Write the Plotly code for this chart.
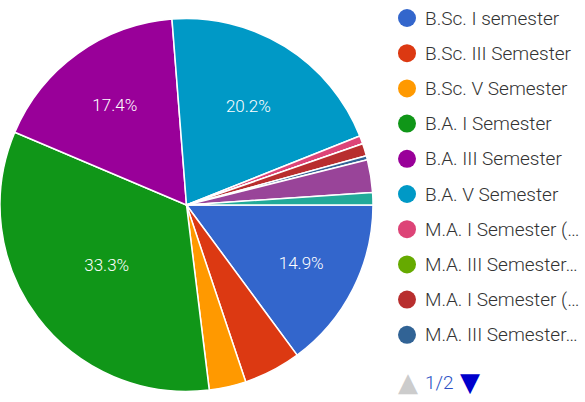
import plotly.graph_objects as go

# ---- data ----
labels = [
    "B.Sc. I semester", "B.Sc. III Semester", "B.Sc. V Semester",
    "B.A. I Semester", "B.A. III Semester", "B.A. V Semester",
    "M.A. I Semester (…", "M.A. III Semester…", "M.A. I Semester (… ",
    "M.A. III Semester… ", "M.Com. I Semester", "M.Com. III Semester",
]
counts = [42, 14, 9, 94, 49, 57, 2, 0, 3, 1, 8, 3]
colors = ["#3366cc", "#dc3912", "#ff9900", "#109618", "#990099", "#0099c6",
          "#dd4477", "#66aa00", "#b82e2e", "#316395", "#994499", "#22aa99"]
legend_labels = labels[:10]
page_text = "1/2"

W, H = 585, 402
total = sum(counts)
slice_text = [f"{c / total * 100:.1f}%" if c / total > 0.1 else "" for c in counts]

# pie geometry (pixels)
cx, cy, r = 186, 205, 187

fig = go.Figure()
fig.add_trace(go.Pie(
    labels=labels, values=counts, sort=False, direction="clockwise",
    rotation=90, text=slice_text, textinfo="text", textposition="inside",
    insidetextorientation="horizontal", hoverinfo="label+percent",
    marker=dict(colors=colors, line=dict(color="white", width=1.5)),
    textfont=dict(family="Roboto", size=17, color="white", weight=300),
    domain=dict(x=[max(0, (cx - r) / W), min(1, (cx + r) / W)],
                y=[max(0, (H - cy - r) / H), min(1, (H - cy + r) / H)]),
    showlegend=False,
))

# legend drawn as scatter markers + text annotations in pixel-space axes
lx, tx, ly0, ldy = 407, 423, 18, 35.2
ly = [ly0 + ldy * i for i in range(len(legend_labels))]
fig.add_trace(go.Scatter(
    x=[lx] * len(legend_labels), y=ly, mode="markers",
    marker=dict(size=18, color=colors[:len(legend_labels)]),
    hoverinfo="skip", showlegend=False, cliponaxis=False,
))
for t, yy in zip(legend_labels, ly):
    fig.add_annotation(x=tx, y=yy, xref="x", yref="y", text=t, showarrow=False,
                       xanchor="left", yanchor="middle",
                       font=dict(family="Roboto", size=19, color="#333333", weight=300))

fig.update_xaxes(range=[0, W], visible=False, fixedrange=True)
fig.update_yaxes(range=[H, 0], visible=False, fixedrange=True)

fig.add_annotation(x=408, y=382, xref="x", yref="y", text="▲", showarrow=False,
                   font=dict(family="DejaVu Sans", size=26, color="#cccccc"))
fig.add_annotation(x=423, y=382, xref="x", yref="y", text=page_text, showarrow=False,
                   xanchor="left", font=dict(family="Roboto", size=19, color="#2b4fc4", weight=300))
fig.add_annotation(x=470, y=382, xref="x", yref="y", text="▼", showarrow=False,
                   font=dict(family="DejaVu Sans", size=26, color="#0000cc"))

fig.update_layout(width=W, height=H, margin=dict(l=0, r=0, t=0, b=0),
                  paper_bgcolor="white", plot_bgcolor="white")
fig.write_html("out.html", config={"displayModeBar": False},
               post_script="document.body.style.margin='0px';document.body.style.overflow='hidden';")
